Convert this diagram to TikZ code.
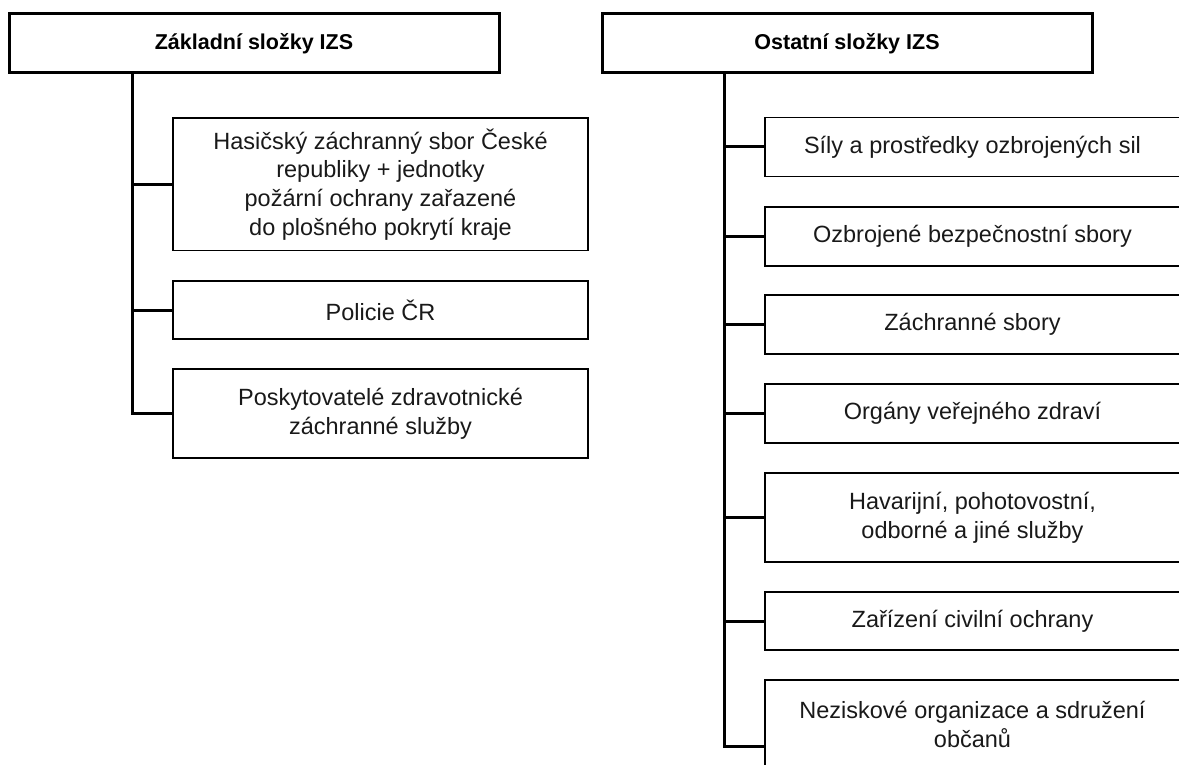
\documentclass[tikz,border=0pt]{standalone}
\usepackage{fontspec}
\setmainfont{Liberation Sans}

\begin{document}
\begin{tikzpicture}[x=1pt, y=-1pt,
    head/.style={draw, line width=3pt, rectangle, minimum width=490pt, minimum height=59pt, inner sep=0pt, font=\fontsize{21.5}{28}\selectfont\bfseries},
    box/.style={draw, line width=1.4pt, rectangle, minimum width=415pt, inner sep=0pt, align=center, text=black!90, font=\fontsize{23.5}{28.7}\selectfont},
    link/.style={line width=3pt}]
    \useasboundingbox (0, 0) rectangle (1179, 765);
    \clip (0, 0) rectangle (1179, 765);

    \node[head] (hL) at (254, 43.5) {Základní složky IZS};
    \node[head] (hR) at (847, 43.5) {Ostatní složky IZS};

    \node[box, minimum height=132.5pt] (l1) at (380.5, 184.25) {Hasičský záchranný sbor České\\republiky + jednotky\\požární ochrany zařazené\\do plošného pokrytí kraje};
    \node[box, minimum height=58pt] (l2) at (380.5, 310) {Policie ČR};
    \node[box, minimum height=89pt] (l3) at (380.5, 413.5) {Poskytovatelé zdravotnické\\záchranné služby};

    \node[box, minimum height=59pt] (r1) at (972.5, 147) {Síly a prostředky ozbrojených sil};
    \node[box, minimum height=59pt] (r2) at (972.5, 236.5) {Ozbrojené bezpečnostní sbory};
    \node[box, minimum height=59pt] (r3) at (972.5, 324.5) {Záchranné sbory};
    \node[box, minimum height=59pt] (r4) at (972.5, 413.5) {Orgány veřejného zdraví};
    \node[box, minimum height=89pt] (r5) at (972.5, 517.5) {Havarijní, pohotovostní,\\odborné a jiné služby};
    \node[box, minimum height=58pt] (r6) at (972.5, 621) {Zařízení civilní ochrany};
    \node[box, minimum height=89pt] (r7) at (972.5, 724.5) {Neziskové organizace a sdružení\\občanů};

    % trunk ends
    \coordinate (lb) at (132, 413.5);
    \coordinate (rb) at (724, 746);

    \draw[link] (hL.south -| lb) -- (lb) -- (l3.west);
    \draw[link] (l1.west) -- (l1.west -| lb);
    \draw[link] (l2.west) -- (l2.west -| lb);

    \draw[link] (hR.south -| rb) -- (rb) -- (rb -| r7.west);
    \foreach \n in {r1, r2, r3, r4, r5, r6}
        \draw[link] (\n.west) -- (\n.west -| rb);
\end{tikzpicture}
\end{document}
